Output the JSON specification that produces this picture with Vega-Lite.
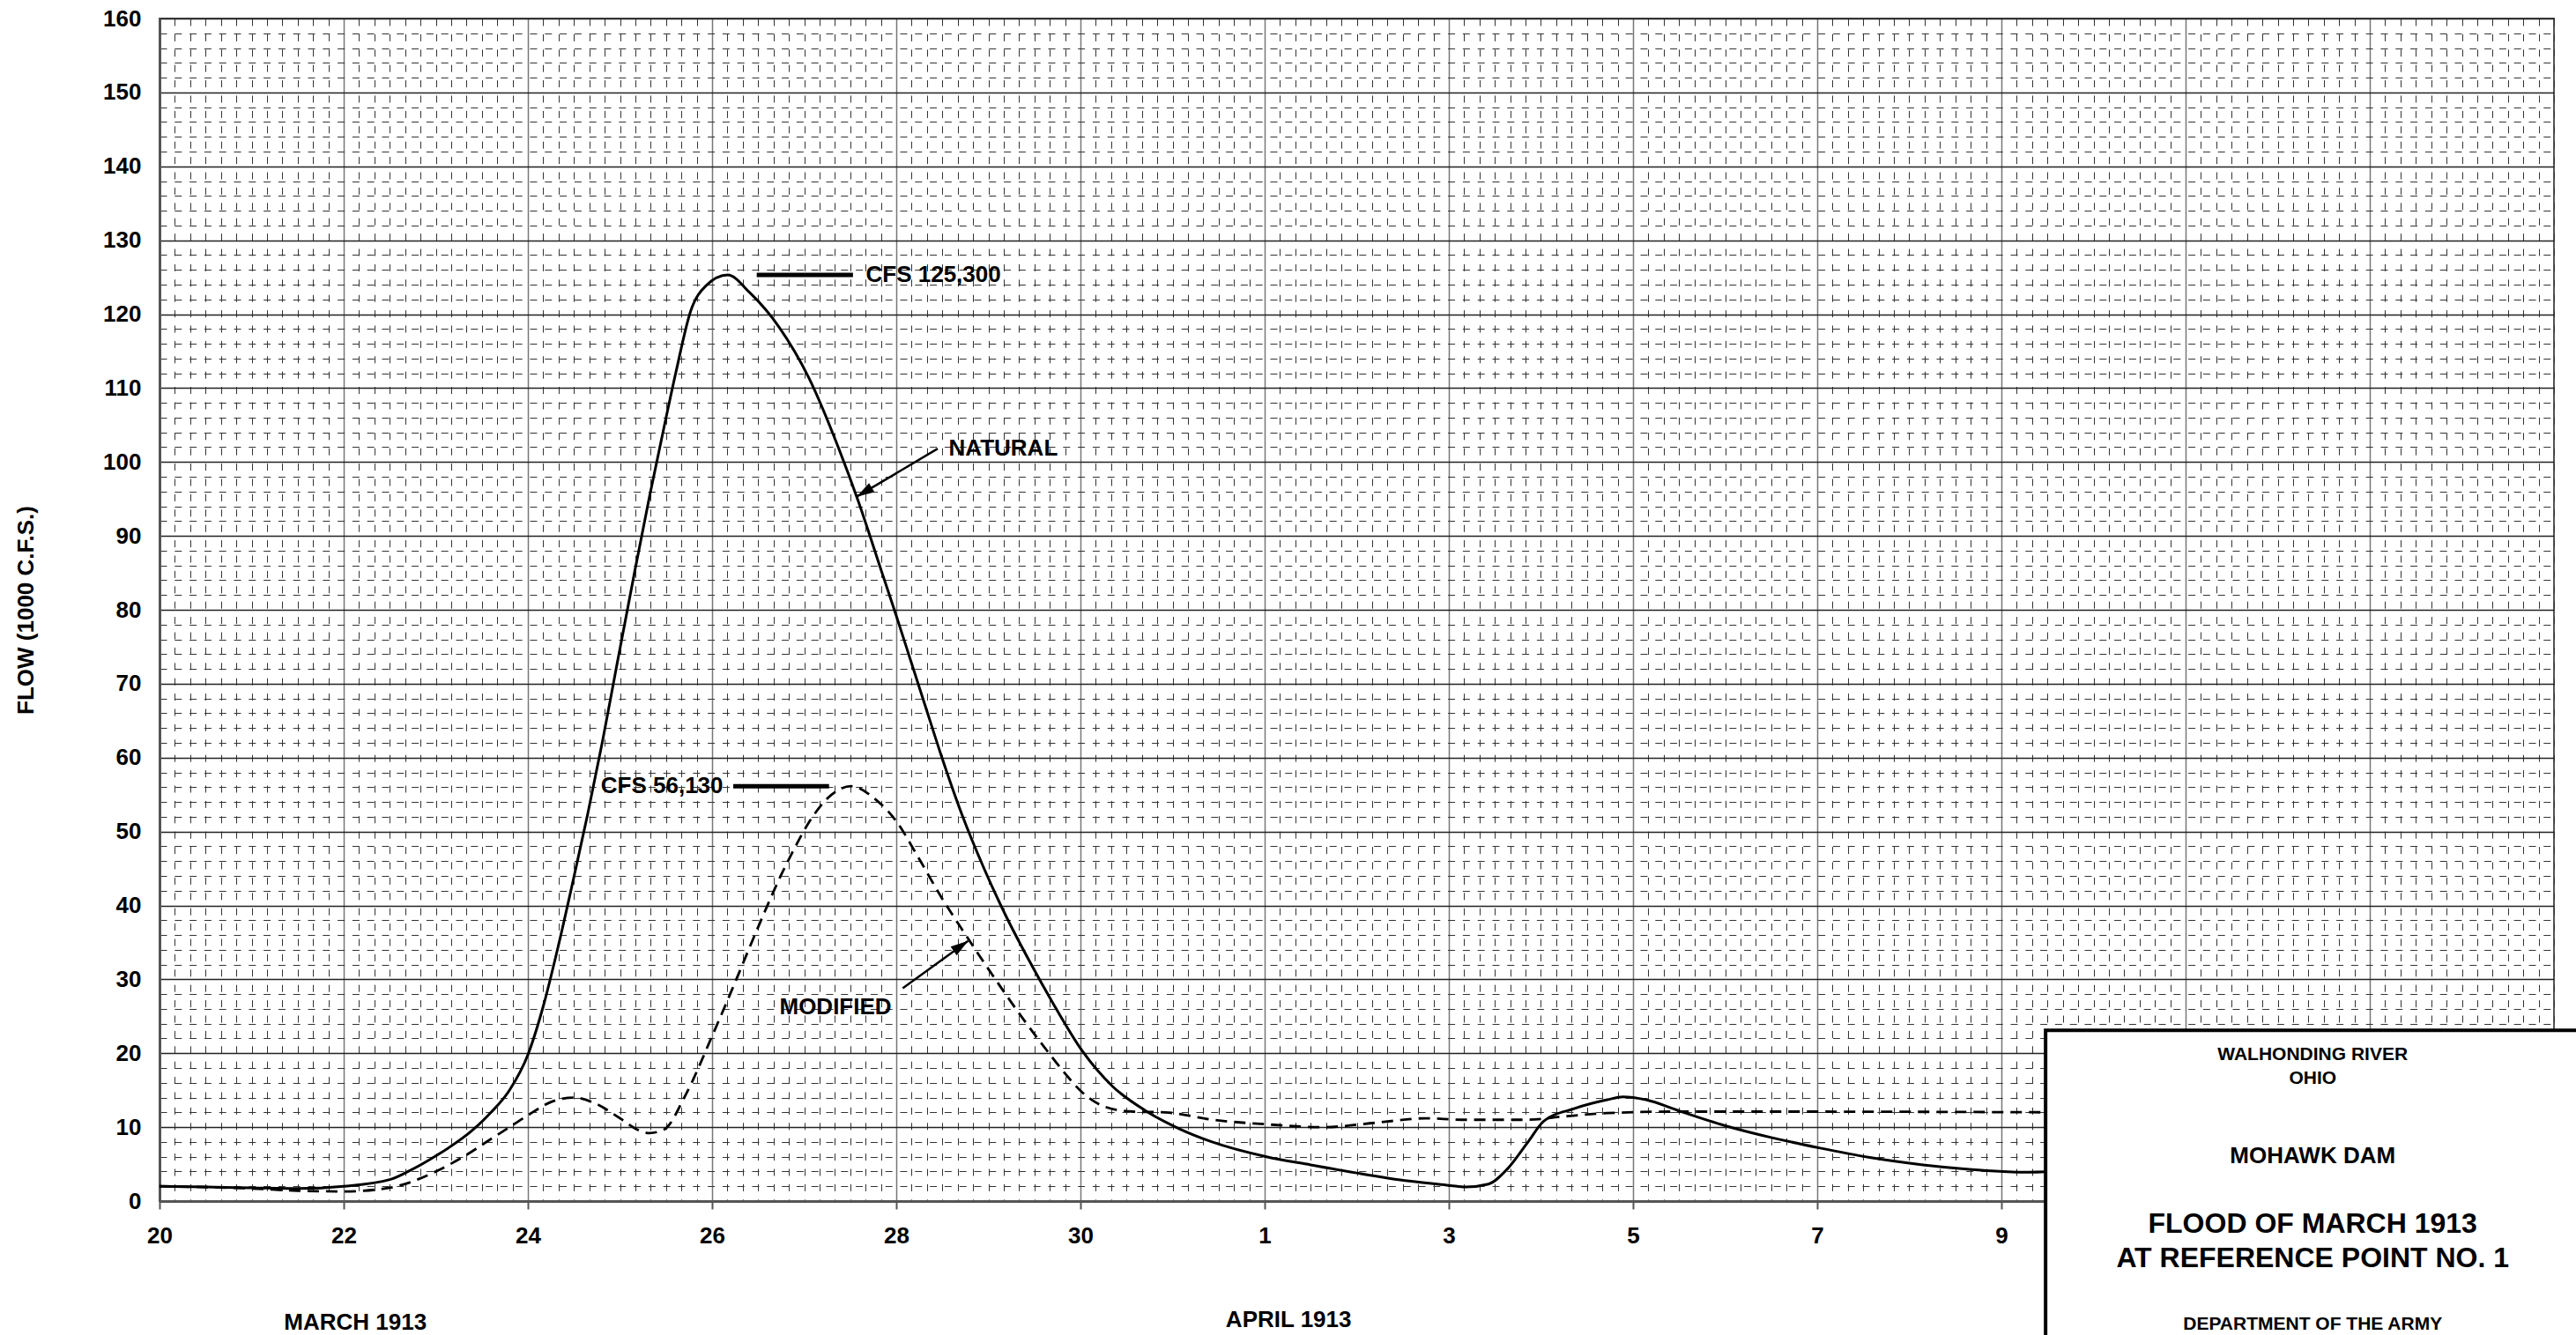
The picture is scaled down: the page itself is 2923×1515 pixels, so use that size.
{
  "$schema": "https://vega.github.io/schema/vega-lite/v6.json",
  "description": "Mohawk Dam, flood of March 1913. x = days elapsed since 1913-03-20 00:00.",
  "width": 2717,
  "height": 1342,
  "autosize": "none",
  "padding": {"left": 181, "top": 21, "right": 25, "bottom": 152},
  "background": "white",
  "config": {
    "view": {"stroke": "#555", "strokeWidth": 2},
    "font": "Liberation Sans",
    "axis": {"labelFont": "Liberation Sans", "titleFont": "Liberation Sans"}
  },
  "datasets": {
    "natural": [
      {"day": 0, "flow": 2.0}, {"day": 1, "flow": 1.8}, {"day": 1.5, "flow": 1.7}, {"day": 2, "flow": 2.0},
      {"day": 2.5, "flow": 2.9}, {"day": 2.7, "flow": 4.0}, {"day": 3, "flow": 6.1}, {"day": 3.4, "flow": 9.6},
      {"day": 3.6, "flow": 12.0}, {"day": 3.8, "flow": 15.0}, {"day": 4, "flow": 19.8}, {"day": 4.17, "flow": 26.5},
      {"day": 4.33, "flow": 34.5}, {"day": 4.49, "flow": 43.3}, {"day": 4.65, "flow": 52.4}, {"day": 4.81, "flow": 62.2},
      {"day": 4.97, "flow": 72.8}, {"day": 5.16, "flow": 85.2}, {"day": 5.32, "flow": 95.3}, {"day": 5.48, "flow": 104.8},
      {"day": 5.61, "flow": 112.3}, {"day": 5.77, "flow": 120.5}, {"day": 5.93, "flow": 123.8}, {"day": 6.17, "flow": 125.3},
      {"day": 6.41, "flow": 122.9}, {"day": 6.73, "flow": 118.2}, {"day": 7.05, "flow": 111.4}, {"day": 7.37, "flow": 102.0},
      {"day": 7.59, "flow": 94.6}, {"day": 7.84, "flow": 85.2}, {"day": 8.0, "flow": 79.2}, {"day": 8.16, "flow": 73.0},
      {"day": 8.32, "flow": 66.8}, {"day": 8.48, "flow": 60.6}, {"day": 8.71, "flow": 52.4}, {"day": 8.96, "flow": 44.8},
      {"day": 9.19, "flow": 38.6}, {"day": 9.44, "flow": 32.6}, {"day": 9.7, "flow": 26.8}, {"day": 10.02, "flow": 20.3},
      {"day": 10.35, "flow": 15.5}, {"day": 10.71, "flow": 12.2}, {"day": 11.07, "flow": 9.8}, {"day": 11.43, "flow": 8.0},
      {"day": 12.02, "flow": 6.0}, {"day": 12.5, "flow": 4.9}, {"day": 13.0, "flow": 3.8}, {"day": 13.57, "flow": 2.7},
      {"day": 14.02, "flow": 2.1}, {"day": 14.18, "flow": 1.9}, {"day": 14.43, "flow": 2.3}, {"day": 14.64, "flow": 4.4},
      {"day": 14.86, "flow": 8.0}, {"day": 15.03, "flow": 10.8}, {"day": 15.36, "flow": 12.5}, {"day": 15.72, "flow": 13.7},
      {"day": 15.89, "flow": 14.1}, {"day": 16.14, "flow": 13.7}, {"day": 16.5, "flow": 12.2}, {"day": 17.0, "flow": 10.2},
      {"day": 17.5, "flow": 8.6}, {"day": 18.02, "flow": 7.2}, {"day": 18.57, "flow": 5.9}, {"day": 19.15, "flow": 4.9},
      {"day": 19.65, "flow": 4.3}, {"day": 20.02, "flow": 4.0}, {"day": 20.22, "flow": 3.9}, {"day": 20.6, "flow": 4.0}
    ],
    "modified": [
      {"day": 0, "flow": 2.0}, {"day": 1, "flow": 1.7}, {"day": 1.5, "flow": 1.4}, {"day": 2, "flow": 1.3},
      {"day": 2.5, "flow": 1.8}, {"day": 2.8, "flow": 2.9}, {"day": 3, "flow": 4.0}, {"day": 3.3, "flow": 6.0},
      {"day": 3.6, "flow": 8.4}, {"day": 3.8, "flow": 10.0}, {"day": 4, "flow": 11.6}, {"day": 4.25, "flow": 13.4},
      {"day": 4.5, "flow": 14.0}, {"day": 4.75, "flow": 13.1}, {"day": 5, "flow": 11.2}, {"day": 5.2, "flow": 9.6},
      {"day": 5.32, "flow": 9.2}, {"day": 5.48, "flow": 9.7}, {"day": 5.71, "flow": 14.3}, {"day": 6.01, "flow": 22.6},
      {"day": 6.25, "flow": 29.6}, {"day": 6.44, "flow": 35.3}, {"day": 6.57, "flow": 39.1}, {"day": 6.73, "flow": 43.6},
      {"day": 6.89, "flow": 47.6}, {"day": 7.05, "flow": 51.2}, {"day": 7.3, "flow": 55.0}, {"day": 7.51, "flow": 56.13},
      {"day": 7.78, "flow": 54.3}, {"day": 8.0, "flow": 51.4}, {"day": 8.23, "flow": 46.7}, {"day": 8.48, "flow": 41.3},
      {"day": 8.77, "flow": 35.7}, {"day": 9.06, "flow": 30.3}, {"day": 9.38, "flow": 24.6}, {"day": 9.64, "flow": 20.3},
      {"day": 9.85, "flow": 17.0}, {"day": 10.02, "flow": 14.7}, {"day": 10.28, "flow": 12.7}, {"day": 10.57, "flow": 12.1},
      {"day": 10.92, "flow": 12.0}, {"day": 11.43, "flow": 11.0}, {"day": 12.0, "flow": 10.4}, {"day": 12.64, "flow": 10.0},
      {"day": 13.21, "flow": 10.6}, {"day": 13.75, "flow": 11.2}, {"day": 14.14, "flow": 11.0}, {"day": 14.86, "flow": 11.0},
      {"day": 15.21, "flow": 11.4}, {"day": 15.72, "flow": 11.9}, {"day": 16.43, "flow": 12.1}, {"day": 17.86, "flow": 12.1},
      {"day": 20.6, "flow": 12.0}
    ],
    "peaks": [
      {"label": "CFS 125,300", "day": 6.485, "day2": 7.53, "flow": 125.3},
      {"label": "CFS 56,130", "day": 6.23, "day2": 7.27, "flow": 56.13}
    ],
    "arrows": [
      {"label": "NATURAL", "day": 8.45, "flow": 101.8, "day2": 7.57, "flow2": 95.3},
      {"label": "MODIFIED", "day": 8.07, "flow": 28.8, "day2": 8.78, "flow2": 35.2}
    ],
    "notes": [
      {"text": "CFS 125,300", "day": 7.67, "flow": 125.3},
      {"text": "NATURAL", "day": 8.57, "flow": 101.8},
      {"text": "CFS 56,130", "day": 6.12, "flow": 56.13},
      {"text": "MODIFIED", "day": 7.34, "flow": 26.2}
    ],
    "frame": [
      {"day": 20.48, "day2": 27.5, "top": 23.1, "bottom": -25}
    ],
    "boxText": [
      {"text": "WALHONDING RIVER", "day": 23.38, "flow": 19.75},
      {"text": "OHIO", "day": 23.38, "flow": 16.6},
      {"text": "MOHAWK DAM", "day": 23.38, "flow": 6.04},
      {"text": "FLOOD OF MARCH 1913", "day": 23.38, "flow": -3.1},
      {"text": "AT REFERENCE POINT NO. 1", "day": 23.38, "flow": -7.8},
      {"text": "DEPARTMENT OF THE ARMY", "day": 23.38, "flow": -16.7}
    ],
    "months": [
      {"text": "MARCH 1913", "day": 2.126, "flow": -16.4},
      {"text": "APRIL 1913", "day": 12.26, "flow": -16.1}
    ]
  },
  "resolve": {"axis": {"x": "independent", "y": "independent"}},
  "layer": [
    {
      "data": {"name": "natural"},
      "mark": {"type": "line", "color": "black", "strokeWidth": 3, "interpolate": "monotone"},
      "encoding": {
        "x": {
          "field": "day", "type": "quantitative",
          "scale": {"domain": [0, 26], "nice": false, "zero": false},
          "axis": {"orient": "bottom", "grid": true, "gridDash": [8, 9.4], "gridColor": "#333", "gridWidth": 1, "labels": false, "ticks": false, "domain": false, "title": null,
            "values": [0,0.1667,0.3333,0.5,0.6667,0.8333,1,1.1667,1.3333,1.5,1.6667,1.8333,2,2.1667,2.3333,2.5,2.6667,2.8333,3,3.1667,3.3333,3.5,3.6667,3.8333,4,4.1667,4.3333,4.5,4.6667,4.8333,5,5.1667,5.3333,5.5,5.6667,5.8333,6,6.1667,6.3333,6.5,6.6667,6.8333,7,7.1667,7.3333,7.5,7.6667,7.8333,8,8.1667,8.3333,8.5,8.6667,8.8333,9,9.1667,9.3333,9.5,9.6667,9.8333,10,10.1667,10.3333,10.5,10.6667,10.8333,11,11.1667,11.3333,11.5,11.6667,11.8333,12,12.1667,12.3333,12.5,12.6667,12.8333,13,13.1667,13.3333,13.5,13.6667,13.8333,14,14.1667,14.3333,14.5,14.6667,14.8333,15,15.1667,15.3333,15.5,15.6667,15.8333,16,16.1667,16.3333,16.5,16.6667,16.8333,17,17.1667,17.3333,17.5,17.6667,17.8333,18,18.1667,18.3333,18.5,18.6667,18.8333,19,19.1667,19.3333,19.5,19.6667,19.8333,20,20.1667,20.3333,20.5,20.6667,20.8333,21,21.1667,21.3333,21.5,21.6667,21.8333,22,22.1667,22.3333,22.5,22.6667,22.8333,23,23.1667,23.3333,23.5,23.6667,23.8333,24,24.1667,24.3333,24.5,24.6667,24.8333,25,25.1667,25.3333,25.5,25.6667,25.8333,26]}
        },
        "y": {
          "field": "flow", "type": "quantitative",
          "scale": {"domain": [0, 160], "nice": false},
          "axis": {"orient": "left", "grid": true, "gridDash": [8, 8.8], "gridColor": "#333", "gridWidth": 1, "labels": false, "ticks": false, "domain": false, "title": null,
            "values": [0,2,4,6,8,10,12,14,16,18,20,22,24,26,28,30,32,34,36,38,40,42,44,46,48,50,52,54,56,58,60,62,64,66,68,70,72,74,76,78,80,82,84,86,88,90,92,94,96,98,100,102,104,106,108,110,112,114,116,118,120,122,124,126,128,130,132,134,136,138,140,142,144,146,148,150,152,154,156,158,160]}
        }
      }
    },
    {
      "data": {"name": "modified"},
      "mark": {"type": "line", "color": "black", "strokeWidth": 2.8, "strokeDash": [13, 8], "interpolate": "monotone"},
      "encoding": {
        "x": {
          "field": "day", "type": "quantitative",
          "axis": {"orient": "bottom", "grid": true, "gridColor": "#777", "gridWidth": 1.5, "labels": false, "ticks": false, "domain": false, "title": null,
            "values": [0, 2, 4, 6, 8, 10, 12, 14, 16, 18, 20, 22, 24]}
        },
        "y": {
          "field": "flow", "type": "quantitative",
          "axis": {"orient": "left", "grid": true, "gridColor": "#222", "gridWidth": 1.5, "labels": false, "ticks": false, "domain": false, "title": null,
            "values": [0, 10, 20, 30, 40, 50, 60, 70, 80, 90, 100, 110, 120, 130, 140, 150, 160]}
        }
      }
    },
    {
      "data": {"name": "peaks"},
      "mark": {"type": "rule", "color": "black", "strokeWidth": 5},
      "encoding": {
        "x": {
          "field": "day", "type": "quantitative",
          "axis": {"orient": "bottom", "grid": false, "title": null,
            "values": [0, 2, 4, 6, 8, 10, 12, 14, 16, 18, 20],
            "labelExpr": "datum.value <= 11 ? datum.value + 20 : datum.value - 11",
            "labelFontSize": 26, "labelFontWeight": "bold", "labelColor": "black", "labelPadding": 17,
            "labelFlush": false, "labelOverlap": false, "labelBound": false,
            "ticks": true, "tickSize": 9, "tickColor": "#555", "tickWidth": 2,
            "domain": true, "domainColor": "#555", "domainWidth": 3}
        },
        "x2": {"field": "day2"},
        "y": {
          "field": "flow", "type": "quantitative",
          "axis": {"orient": "left", "grid": false,
            "values": [0, 10, 20, 30, 40, 50, 60, 70, 80, 90, 100, 110, 120, 130, 140, 150, 160],
            "labelFontSize": 26, "labelFontWeight": "bold", "labelColor": "black", "labelPadding": 21,
            "ticks": false, "domain": true, "domainColor": "#555", "domainWidth": 3,
            "title": "FLOW (1000 C.F.S.)", "titleFontSize": 26, "titleFontWeight": "bold", "titleColor": "black", "titlePadding": 74}
        }
      }
    },
    {
      "data": {"name": "arrows"},
      "mark": {"type": "rule", "color": "black", "strokeWidth": 2.5},
      "encoding": {
        "x": {"field": "day", "type": "quantitative", "axis": null},
        "x2": {"field": "day2"},
        "y": {"field": "flow", "type": "quantitative", "axis": null},
        "y2": {"field": "flow2"}
      }
    },
    {
      "data": {"name": "arrows"},
      "transform": [{"filter": "datum.label == 'NATURAL'"}],
      "mark": {"type": "point", "shape": "M0,0L0.6,2L-0.6,2Z", "filled": true, "color": "black", "opacity": 1, "size": 400, "angle": 239},
      "encoding": {
        "x": {"field": "day2", "type": "quantitative", "axis": null},
        "y": {"field": "flow2", "type": "quantitative", "axis": null}
      }
    },
    {
      "data": {"name": "arrows"},
      "transform": [{"filter": "datum.label == 'MODIFIED'"}],
      "mark": {"type": "point", "shape": "M0,0L0.6,2L-0.6,2Z", "filled": true, "color": "black", "opacity": 1, "size": 400, "angle": 55},
      "encoding": {
        "x": {"field": "day2", "type": "quantitative", "axis": null},
        "y": {"field": "flow2", "type": "quantitative", "axis": null}
      }
    },
    {
      "data": {"name": "notes"},
      "transform": [{"filter": {"field": "text", "oneOf": ["CFS 125,300", "NATURAL"]}}],
      "mark": {"type": "text", "align": "left", "baseline": "middle", "fontSize": 26, "fontWeight": "bold", "color": "black"},
      "encoding": {
        "x": {"field": "day", "type": "quantitative", "axis": null},
        "y": {"field": "flow", "type": "quantitative", "axis": null},
        "text": {"field": "text"}
      }
    },
    {
      "data": {"name": "notes"},
      "transform": [{"filter": {"field": "text", "oneOf": ["CFS 56,130"]}}],
      "mark": {"type": "text", "align": "right", "baseline": "middle", "fontSize": 26, "fontWeight": "bold", "color": "black"},
      "encoding": {
        "x": {"field": "day", "type": "quantitative", "axis": null},
        "y": {"field": "flow", "type": "quantitative", "axis": null},
        "text": {"field": "text"}
      }
    },
    {
      "data": {"name": "notes"},
      "transform": [{"filter": {"field": "text", "oneOf": ["MODIFIED"]}}],
      "mark": {"type": "text", "align": "center", "baseline": "middle", "fontSize": 26, "fontWeight": "bold", "color": "black"},
      "encoding": {
        "x": {"field": "day", "type": "quantitative", "axis": null},
        "y": {"field": "flow", "type": "quantitative", "axis": null},
        "text": {"field": "text"}
      }
    },
    {
      "data": {"name": "frame"},
      "mark": {"type": "rect", "fill": "white", "stroke": "black", "strokeWidth": 4},
      "encoding": {
        "x": {"field": "day", "type": "quantitative", "axis": null},
        "x2": {"field": "day2"},
        "y": {"field": "top", "type": "quantitative", "axis": null},
        "y2": {"field": "bottom"}
      }
    },
    {
      "data": {"name": "boxText"},
      "transform": [{"filter": {"field": "text", "oneOf": ["WALHONDING RIVER", "OHIO", "DEPARTMENT OF THE ARMY"]}}],
      "mark": {"type": "text", "align": "center", "baseline": "middle", "fontSize": 21, "fontWeight": "bold", "color": "black"},
      "encoding": {
        "x": {"field": "day", "type": "quantitative", "axis": null},
        "y": {"field": "flow", "type": "quantitative", "axis": null},
        "text": {"field": "text"}
      }
    },
    {
      "data": {"name": "boxText"},
      "transform": [{"filter": {"field": "text", "oneOf": ["MOHAWK DAM"]}}],
      "mark": {"type": "text", "align": "center", "baseline": "middle", "fontSize": 26, "fontWeight": "bold", "color": "black"},
      "encoding": {
        "x": {"field": "day", "type": "quantitative", "axis": null},
        "y": {"field": "flow", "type": "quantitative", "axis": null},
        "text": {"field": "text"}
      }
    },
    {
      "data": {"name": "boxText"},
      "transform": [{"filter": {"field": "text", "oneOf": ["FLOOD OF MARCH 1913", "AT REFERENCE POINT NO. 1"]}}],
      "mark": {"type": "text", "align": "center", "baseline": "middle", "fontSize": 32, "fontWeight": "bold", "color": "black"},
      "encoding": {
        "x": {"field": "day", "type": "quantitative", "axis": null},
        "y": {"field": "flow", "type": "quantitative", "axis": null},
        "text": {"field": "text"}
      }
    },
    {
      "data": {"name": "months"},
      "mark": {"type": "text", "align": "center", "baseline": "middle", "fontSize": 26, "fontWeight": "bold", "color": "black"},
      "encoding": {
        "x": {"field": "day", "type": "quantitative", "axis": null},
        "y": {"field": "flow", "type": "quantitative", "axis": null},
        "text": {"field": "text"}
      }
    }
  ]
}
